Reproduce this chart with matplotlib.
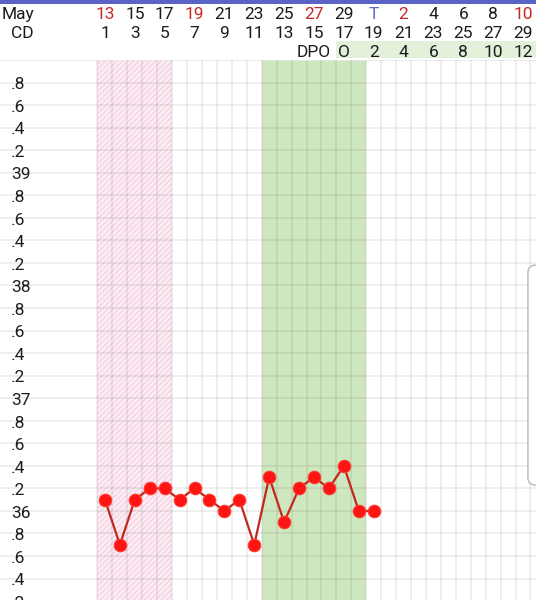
import matplotlib
matplotlib.use('Agg')
import matplotlib.pyplot as plt
from matplotlib.patches import FancyBboxPatch, Rectangle

plt.rcParams['font.family'] = ['Roboto', 'DejaVu Sans']
plt.rcParams['hatch.linewidth'] = 1.4

# cycle data
cycle_days = list(range(1, 20))
temps = [36.1, 35.7, 36.1, 36.2, 36.2, 36.1, 36.2, 36.1, 36.0, 36.1,
         35.7, 36.3, 35.9, 36.2, 36.3, 36.2, 36.4, 36.0, 36.0]

header_days = list(range(1, 30, 2))
date_labels = ["13", "15", "17", "19", "21", "23", "25", "27", "29", "T",
               "2", "4", "6", "8", "10"]
date_kind = ["we", "", "", "we", "", "", "", "we", "", "today",
             "we", "", "", "", "we"]
dpo_days = [17, 19, 21, 23, 25, 27, 29]
dpo_labels = ["O", "2", "4", "6", "8", "10", "12"]

period = (1, 5)        # menstruation days
fertile = (12, 18)     # green window
ovulation_day = 17

y_ticks = [round(35.2 + 0.2 * i, 1) for i in range(25)]   # 35.2 .. 40.0

BLACK = "#1c1c1c"
RED_TXT = "#c62828"
BLUE_TXT = "#5c6bc0"
GRID = (0, 0, 0, 0.075)

W, H = 536, 600
fig = plt.figure(figsize=(W / 100, H / 100), dpi=100)
fig.patch.set_facecolor("white")

XLIM = (-6.03, 29.87)
YLIM = (35.21, 40.0)

# ---- chart ----
ax = fig.add_axes([0, 0, 1, 540 / H])
ax.set_xlim(*XLIM)
ax.set_ylim(*YLIM)
ax.axis("off")

ax.add_patch(Rectangle((period[0] - 0.5, YLIM[0]), period[1] - period[0] + 1, YLIM[1] - YLIM[0],
                       facecolor="#fcf0f6", edgecolor="#f8d8e7", hatch="//////", lw=0, zorder=1))
ax.axvspan(fertile[0] - 0.5, fertile[1] + 0.5, color="#cfe7bf", lw=0, zorder=1)

for v in y_ticks:
    ax.axhline(v, color=GRID if v < 40 else "#e6e6e6", lw=1.2, zorder=2)
ax.vlines([d + 0.5 for d in range(0, 31)], YLIM[0], YLIM[1], color=GRID, lw=1.2, zorder=2)

lbl_tr = matplotlib.transforms.blended_transform_factory(ax.transAxes, ax.transData)
for v in y_ticks[:-1]:
    s = "%d" % round(v) if abs(v - round(v)) < 1e-6 else ".%d" % round((v % 1) * 10)
    ax.text(11 / W, v - 0.06, s, transform=lbl_tr, ha="left", va="baseline",
            fontsize=12.5, color=BLACK, zorder=3)

ax.plot(cycle_days, temps, color="#c0281e", lw=1.6, zorder=4)
ax.plot(cycle_days, temps, ls="none", marker="o", ms=9, mfc="#ff1414", mec="#ff3b30",
        mew=0.8, zorder=5)

# scroll handle on the right edge
ax.add_patch(FancyBboxPatch((29.33, 36.23), 1.2, 38.18 - 36.23,
                            boxstyle="round,pad=0,rounding_size=0.5", mutation_aspect=0.133,
                            facecolor="white", edgecolor="#b8b8b8", lw=1.0, zorder=6,
                            clip_on=False))

# ---- header ----
hx = fig.add_axes([0, 540 / H, 1, 60 / H])
hx.set_xlim(*XLIM)
hx.set_ylim(60, 0)
hx.axis("off")

hx.axhspan(0, 4, color="#5b63c6", lw=0)
hx.add_patch(Rectangle((ovulation_day - 0.5, 41), XLIM[1] - ovulation_day + 0.5, 17,
                       facecolor="#e3f0da", lw=0))

htr = matplotlib.transforms.blended_transform_factory(hx.transAxes, hx.transData)
hx.text(34 / W, 19, "May", transform=htr, ha="right", va="baseline", fontsize=12.5, color=BLACK)
hx.text(34 / W, 38, "CD", transform=htr, ha="right", va="baseline", fontsize=12.5, color=BLACK)

colors = {"we": RED_TXT, "today": BLUE_TXT, "": BLACK}
for d, lab, k in zip(header_days, date_labels, date_kind):
    hx.text(d, 19, lab, ha="center", va="baseline", fontsize=12.5, color=colors[k])
    hx.text(d, 38, str(d), ha="center", va="baseline", fontsize=12.5, color=BLACK)

hx.text(16.15, 57, "DPO", ha="right", va="baseline", fontsize=12.5, color=BLACK)
for d, lab in zip(dpo_days, dpo_labels):
    hx.text(d, 57, lab, ha="center", va="baseline", fontsize=12.5, color=BLACK)

fig.savefig("out.png", dpi=100)
